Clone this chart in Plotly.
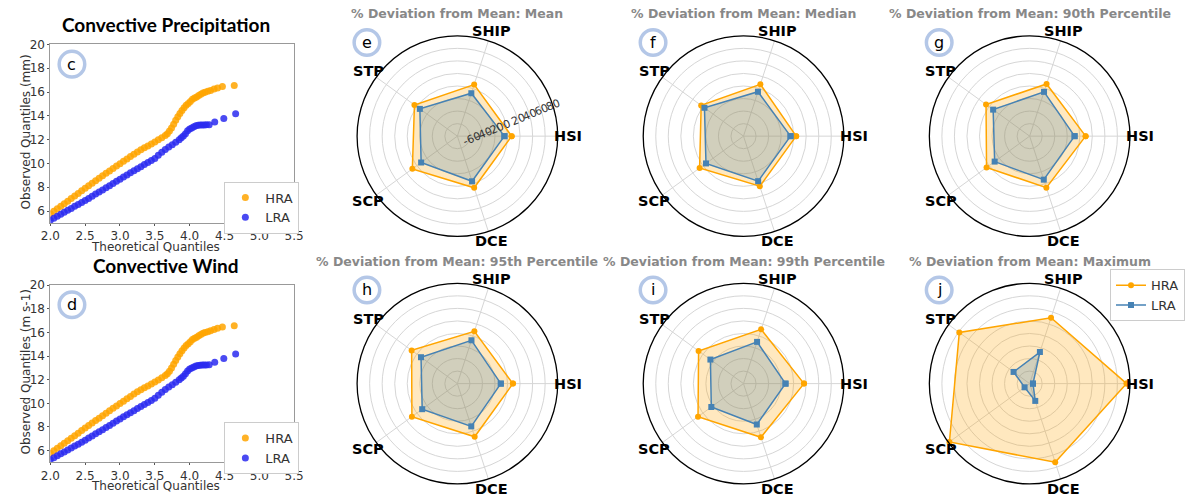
import math
import plotly.graph_objects as go

W, H = 1195, 497

# ---------------- QQ data (theoretical vs observed quantiles) ----------------
qq_hra_x = [2.00, 2.05, 2.10, 2.15, 2.20, 2.25, 2.30, 2.35, 2.40, 2.45, 2.50, 2.55, 2.60, 2.65,
            2.70, 2.75, 2.80, 2.85, 2.90, 2.95, 3.00, 3.05, 3.10, 3.15, 3.20, 3.25, 3.30, 3.35,
            3.40, 3.45, 3.50, 3.55, 3.60, 3.65, 3.68, 3.71, 3.74, 3.77, 3.80, 3.83, 3.86, 3.89,
            3.92, 3.95, 3.98, 4.01, 4.04, 4.07, 4.10, 4.13, 4.16, 4.19, 4.22, 4.26, 4.30, 4.35,
            4.40, 4.47, 4.64]
qq_hra_y = [5.78, 5.99, 6.20, 6.41, 6.62, 6.83, 7.05, 7.27, 7.48, 7.70, 7.91, 8.12, 8.33, 8.54,
            8.75, 8.96, 9.17, 9.37, 9.58, 9.78, 9.98, 10.18, 10.38, 10.58, 10.78, 10.97, 11.14, 11.31,
            11.47, 11.64, 11.80, 11.98, 12.16, 12.35, 12.50, 12.72, 12.98, 13.30, 13.62, 13.92, 14.20, 14.45,
            14.67, 14.88, 15.03, 15.20, 15.40, 15.50, 15.59, 15.72, 15.82, 15.92, 15.98, 16.06, 16.14, 16.25,
            16.35, 16.46, 16.55]
qq_lra_x = [2.00, 2.05, 2.10, 2.15, 2.20, 2.25, 2.30, 2.35, 2.40, 2.45, 2.50, 2.55, 2.60, 2.65,
            2.70, 2.75, 2.80, 2.85, 2.90, 2.95, 3.00, 3.05, 3.10, 3.15, 3.20, 3.25, 3.30, 3.35,
            3.40, 3.45, 3.50, 3.55, 3.60, 3.65, 3.70, 3.75, 3.80, 3.85, 3.88, 3.91, 3.94, 3.97,
            4.00, 4.03, 4.06, 4.09, 4.12, 4.15, 4.18, 4.21, 4.24, 4.28, 4.36, 4.49, 4.66]
qq_lra_y = [5.23, 5.40, 5.56, 5.73, 5.89, 6.06, 6.22, 6.39, 6.55, 6.72, 6.88, 7.06, 7.24, 7.42,
            7.59, 7.77, 7.95, 8.13, 8.31, 8.50, 8.68, 8.86, 9.03, 9.21, 9.38, 9.56, 9.73, 9.90,
            10.07, 10.25, 10.42, 10.68, 10.93, 11.17, 11.38, 11.58, 11.79, 12.00, 12.15, 12.30, 12.50, 12.74,
            12.90, 12.98, 13.08, 13.16, 13.20, 13.22, 13.24, 13.24, 13.25, 13.26, 13.48, 13.78, 14.18]

qq_titles = ["Convective Precipitation", "Convective Wind"]
qq_ylabels = ["Observed Quantiles (mm)", "Observed Quantiles (m s-1)"]
qq_letters = ["c", "d"]
qq_xticks = [2.0, 2.5, 3.0, 3.5, 4.0, 4.5, 5.0, 5.5]
qq_yticks = [6, 8, 10, 12, 14, 16, 18, 20]

# ---------------- Radar data: % deviation from mean ----------------
indices = ["HSI", "SHIP", "STP", "SCP", "DCE"]
stats = ["Mean", "Median", "90th Percentile", "95th Percentile", "99th Percentile", "Maximum"]
radar_letters = ["e", "f", "g", "h", "i", "j"]
hra_mean = [6.6, 6.6, 4.7, 8.8, 6.6]
lra_mean = [-5.0, -8.0, -6.0, -8.5, -4.3]
hra_median = [4.0, 7.0, 3.5, 6.6, 4.0]
lra_median = [-5.0, -5.5, -3.0, -6.0, -4.5]
hra_p90 = [9.3, 7.5, 6.0, 5.0, 6.4]
lra_p90 = [-8.3, -5.7, -8.0, -11.0, -7.0]
hra_p95 = [8.6, 7.8, 10.2, 9.7, 9.2]
lra_p95 = [-10.7, -7.3, -8.3, -10.6, -8.3]
hra_p99 = [16.5, 11.0, 8.6, 9.7, 10.0]
lra_p99 = [-13.0, -10.0, -14.7, -16.5, -11.4]
hra_max = [74.7, 30.4, 58.7, 78.2, 52.0]
lra_max = [-74.7, -27.0, -48.3, -70.0, -51.0]
radial_ticks = [-60, -40, -20, 0, 20, 40, 60, 80]

hra_sets = [hra_mean, hra_median, hra_p90, hra_p95, hra_p99, hra_max]
lra_sets = [lra_mean, lra_median, lra_p90, lra_p95, lra_p99, lra_max]

ORANGE = "#FFA500"
STEEL = "#4682B4"
QQ_BLUE = "#2a2af0"
RING = "#b4c7e7"


def px_x(x):
    return x / W


def px_y(y):
    return 1 - y / H


fig = go.Figure()
annotations = []
shapes = []


def badge(cx, cy, letter, r=13):
    shapes.append(dict(type="circle", xref="paper", yref="paper",
                       x0=px_x(cx - r), x1=px_x(cx + r), y0=px_y(cy + r), y1=px_y(cy - r),
                       line=dict(color=RING, width=3.5), fillcolor="white", layer="above"))
    annotations.append(dict(text=letter, x=px_x(cx), y=px_y(cy), xref="paper", yref="paper",
                            showarrow=False, xanchor="center", yanchor="middle",
                            font=dict(family="DejaVu Sans", size=16, color="black")))


# ---------------- QQ panels ----------------
qq_boxes = [(41, 289, 38, 219), (41, 289, 282, 462)]
qq_xtitle_gap = 24
for k in range(2):
    xa = "x" if k == 0 else "x2"
    ya = "y" if k == 0 else "y2"
    leg = "legend2" if k == 0 else "legend3"
    fig.add_trace(go.Scatter(x=qq_hra_x, y=qq_hra_y, mode="markers", name="HRA",
                             marker=dict(color=ORANGE, size=7, opacity=0.85),
                             xaxis=xa, yaxis=ya, legend=leg))
    fig.add_trace(go.Scatter(x=qq_lra_x, y=qq_lra_y, mode="markers", name="LRA",
                             marker=dict(color=QQ_BLUE, size=7, opacity=0.85),
                             xaxis=xa, yaxis=ya, legend=leg))

    l, r, t, b = qq_boxes[k]
    axis_common = dict(showline=True, mirror=True, linecolor="#999", linewidth=1,
                       ticks="outside", ticklen=2, tickcolor="#555", showgrid=False, zeroline=False,
                       tickfont=dict(family="DejaVu Sans", size=12, color="#333"))
    fig.update_layout(**{
        ("xaxis" if k == 0 else "xaxis2"): dict(domain=[px_x(l), px_x(r)], range=[2.0, 5.5],
                                                tickvals=qq_xticks, tickformat=".1f",
                                                anchor=ya, **axis_common),
        ("yaxis" if k == 0 else "yaxis2"): dict(domain=[px_y(b), px_y(t)], range=[5, 20],
                                                tickvals=qq_yticks, anchor=xa, **axis_common),
    })
    annotations.append(dict(text="<b>" + qq_titles[k] + "</b>", x=px_x(159), y=px_y(t - 20),
                            xref="paper", yref="paper", showarrow=False,
                            xanchor="center", yanchor="middle",
                            font=dict(family="Lato", size=19, color="black")))
    annotations.append(dict(text="Theoretical Quantiles", x=px_x(148), y=px_y(b + qq_xtitle_gap),
                            xref="paper", yref="paper", showarrow=False,
                            xanchor="center", yanchor="middle",
                            font=dict(family="DejaVu Sans", size=12, color="#333")))
    annotations.append(dict(text=qq_ylabels[k], x=px_x(16), y=px_y((t + b) / 2 - 2),
                            xref="paper", yref="paper", showarrow=False, textangle=-90,
                            xanchor="center", yanchor="middle",
                            font=dict(family="DejaVu Sans", size=12, color="#333")))
    badge(63, t + 20, qq_letters[k])

# ---------------- Radar panels ----------------
centers = [(455, 131), (746, 131), (1037, 131), (455, 382), (746, 382), (1037, 382)]
R = 102          # radius of the polar frame, px
LABEL_R = 112    # distance of the index names from the centre, px
theta = indices + indices[:1]
for k in range(6):
    sub = "polar" if k == 0 else f"polar{k + 1}"
    hra = hra_sets[k]
    lra = lra_sets[k]
    # filled areas (no outline), then outlines with markers on top
    fig.add_trace(go.Scatterpolar(r=hra + hra[:1], theta=theta, mode="none",
                                  fill="toself", fillcolor="rgba(255,165,0,0.25)",
                                  subplot=sub, showlegend=False, hoverinfo="skip"))
    fig.add_trace(go.Scatterpolar(r=lra + lra[:1], theta=theta, mode="none",
                                  fill="toself", fillcolor="rgba(70,130,180,0.25)",
                                  subplot=sub, showlegend=False, hoverinfo="skip"))
    fig.add_trace(go.Scatterpolar(r=hra + hra[:1], theta=theta, mode="lines+markers",
                                  line=dict(color=ORANGE, width=1.5),
                                  marker=dict(symbol="circle", size=6, color=ORANGE),
                                  name="HRA", subplot=sub, legend="legend", showlegend=(k == 5)))
    fig.add_trace(go.Scatterpolar(r=lra + lra[:1], theta=theta, mode="lines+markers",
                                  line=dict(color=STEEL, width=1.5),
                                  marker=dict(symbol="square", size=6, color=STEEL),
                                  name="LRA", subplot=sub, legend="legend", showlegend=(k == 5)))
    cx, cy = centers[k]
    fig.update_layout(**{sub: dict(
        domain=dict(x=[px_x(cx - R), px_x(cx + R)], y=[px_y(cy + R), px_y(cy - R)]),
        bgcolor="white",
        angularaxis=dict(categoryorder="array", categoryarray=indices, rotation=0,
                         direction="counterclockwise", showline=True, linecolor="black",
                         linewidth=1.3, gridcolor="#d6d6d6", gridwidth=1, ticks="",
                         showticklabels=False),
        radialaxis=dict(range=[-80, 80], tickvals=radial_ticks,
                        ticktext=[str(v) for v in radial_ticks], showline=False,
                        gridcolor="#d6d6d6", gridwidth=1, ticks="", angle=22.5, tickangle=0,
                        showticklabels=(k == 0),
                        tickfont=dict(family="DejaVu Sans", size=11, color="#333")),
    )})
    # index names centred just outside the frame
    for j, name in enumerate(indices):
        ang = math.radians(72 * j)
        annotations.append(dict(text="<b>" + name + "</b>",
                                x=px_x(cx + LABEL_R * math.cos(ang)),
                                y=px_y(cy - LABEL_R * math.sin(ang)),
                                xref="paper", yref="paper", showarrow=False,
                                xanchor="center", yanchor="middle",
                                font=dict(family="DejaVu Sans", size=14.5, color="black")))
    annotations.append(dict(text="<b>% Deviation from Mean: " + stats[k] + "</b>",
                            x=px_x(cx), y=px_y(cy - 124), xref="paper", yref="paper",
                            showarrow=False, xanchor="center", yanchor="middle",
                            font=dict(family="DejaVu Sans", size=12.5, color="#888888")))
    badge(cx - 92, cy - 95, radar_letters[k])

fig.update_layout(
    width=W, height=H, autosize=False,
    margin=dict(l=0, r=0, t=0, b=0),
    paper_bgcolor="white", plot_bgcolor="white",
    annotations=annotations, shapes=shapes,
    legend=dict(x=1.0, y=px_y(266), xanchor="right", yanchor="top",
                bordercolor="#cccccc", borderwidth=1, bgcolor="white",
                font=dict(family="DejaVu Sans", size=13, color="#333")),
    legend2=dict(x=px_x(218), y=px_y(177), xanchor="left", yanchor="top",
                 bordercolor="#cccccc", borderwidth=1, bgcolor="white",
                 font=dict(family="DejaVu Sans", size=13, color="#333")),
    legend3=dict(x=px_x(218), y=px_y(421), xanchor="left", yanchor="top",
                 bordercolor="#cccccc", borderwidth=1, bgcolor="white",
                 font=dict(family="DejaVu Sans", size=13, color="#333")),
)

fig.write_html("out.html")
